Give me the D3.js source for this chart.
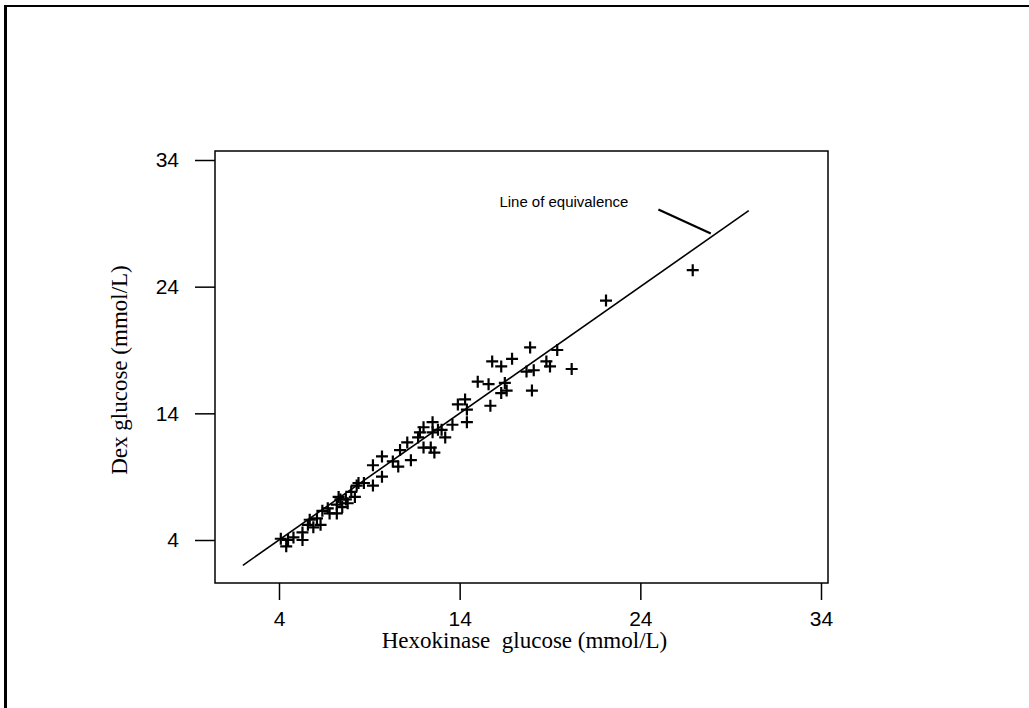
<!DOCTYPE html>
<html>
<head>
<meta charset="utf-8">
<script src="https://cdn.jsdelivr.net/npm/d3@7"></script>
<style>
  body { margin: 0; background: #fff; }
  svg { display: block; }
</style>
</head>
<body>
<script>
// Hexokinase glucose (x) vs Dex glucose (y), mmol/L
const hexokinase = [
  4.1, 4.4, 4.5, 4.8, 5.3, 5.3, 5.6, 5.7, 5.9, 6.1, 6.3, 6.4, 6.7, 6.8, 7.2,
  7.2, 7.3, 7.4, 7.5, 7.7, 7.8, 8.0, 8.2, 8.3, 8.4, 8.7, 9.2, 9.2, 9.7, 9.7,
  10.3, 10.6, 10.7, 11.1, 11.3, 11.7, 11.8, 12.0, 12.0, 12.4, 12.5, 12.5, 12.6,
  12.8, 13.0, 13.2, 13.6, 13.9, 14.3, 14.4, 14.4, 15.0, 15.6, 15.7, 15.8, 16.3,
  16.3, 16.5, 16.6, 16.9, 17.9, 17.7, 18.1, 18.0, 18.8, 19.0, 19.4, 20.2, 22.1,
  26.9
];
const dex = [
  4.1, 3.5, 4.0, 4.2, 4.6, 4.0, 5.2, 5.6, 5.0, 5.7, 5.2, 6.3, 6.5, 6.1, 6.1,
  6.8, 7.4, 7.2, 6.6, 7.2, 6.9, 7.8, 7.4, 8.3, 8.5, 8.5, 8.3, 9.9, 10.6, 9.0,
  10.2, 9.8, 11.1, 11.7, 10.3, 12.1, 12.5, 12.9, 11.3, 11.3, 13.3, 12.5, 10.9,
  12.7, 12.7, 12.1, 13.1, 14.7, 15.1, 14.3, 13.3, 16.5, 16.3, 14.6, 18.1, 17.7,
  15.6, 16.4, 15.8, 18.3, 19.2, 17.3, 17.4, 15.8, 18.1, 17.7, 19.0, 17.5, 22.9,
  25.3
];
const tickValues = [4, 14, 24, 34];
const equivalence = [2, 30];
const noteText = "Line of equivalence";
const notePos = [16.2, 30.3];
const leader = [[25.0, 30.1], [27.9, 28.2]];

const W = 1029, H = 708;
const box = { left: 215, right: 828, top: 151, bottom: 583 };
const sans = "Arial, 'Liberation Sans', sans-serif";
const serif = "'Times New Roman', 'Liberation Serif', serif";

const svg = d3.select("body").append("svg")
  .attr("width", W).attr("height", H);

// outer frame
svg.append("line")
  .attr("x1", 4).attr("x2", W).attr("y1", 6).attr("y2", 6)
  .attr("stroke", "#000").attr("stroke-width", 2);
svg.append("line")
  .attr("x1", 5.5).attr("x2", 5.5).attr("y1", 5).attr("y2", H)
  .attr("stroke", "#000").attr("stroke-width", 3);

const x = d3.scaleLinear().domain([4, 34]).range([279, 821]);
const y = d3.scaleLinear().domain([4, 34]).range([540, 160]);

svg.append("rect")
  .attr("x", box.left).attr("y", box.top)
  .attr("width", box.right - box.left).attr("height", box.bottom - box.top)
  .attr("fill", "none").attr("stroke", "#000").attr("stroke-width", 1.5);

const xAxis = svg.append("g")
  .attr("transform", `translate(0,${box.bottom})`)
  .call(d3.axisBottom(x).tickValues(tickValues).tickSize(17).tickPadding(11));
const yAxis = svg.append("g")
  .attr("transform", `translate(${box.left},0)`)
  .call(d3.axisLeft(y).tickValues(tickValues).tickSize(20).tickPadding(16));

[xAxis, yAxis].forEach((g) => {
  g.select(".domain").remove();
  g.selectAll(".tick line").attr("stroke", "#000").attr("stroke-width", 1.5);
  g.selectAll(".tick text")
    .attr("fill", "#000")
    .attr("font-family", sans)
    .attr("font-size", 21);
});

// line of equivalence
svg.append("line")
  .attr("x1", x(equivalence[0])).attr("y1", y(equivalence[0]))
  .attr("x2", x(equivalence[1])).attr("y2", y(equivalence[1]))
  .attr("stroke", "#000").attr("stroke-width", 1.6);

// data points as plus signs
const arm = 6;
svg.append("g")
  .selectAll("path")
  .data(hexokinase.map((h, i) => [h, dex[i]]))
  .join("path")
  .attr("d", (d) => {
    const cx = x(d[0]), cy = y(d[1]);
    return `M${cx - arm},${cy}H${cx + arm}M${cx},${cy - arm}V${cy + arm}`;
  })
  .attr("stroke", "#000").attr("stroke-width", 2.2).attr("fill", "none");

// annotation
svg.append("text")
  .attr("x", x(notePos[0])).attr("y", y(notePos[1]))
  .style("font-family", sans)
  .style("font-size", "14px")
  .attr("textLength", 129)
  .attr("lengthAdjust", "spacingAndGlyphs")
  .text(noteText);
svg.append("line")
  .attr("x1", x(leader[0][0])).attr("y1", y(leader[0][1]))
  .attr("x2", x(leader[1][0])).attr("y2", y(leader[1][1]))
  .attr("stroke", "#000").attr("stroke-width", 2.2);

// axis titles
svg.append("text")
  .attr("x", (box.left + box.right) / 2 + 3).attr("y", 648)
  .attr("text-anchor", "middle")
  .style("font-family", serif)
  .style("font-size", "23px")
  .style("white-space", "pre")
  .text("Hexokinase  glucose (mmol/L)");
svg.append("text")
  .attr("transform", `translate(127,${(box.top + box.bottom) / 2 + 3}) rotate(-90)`)
  .attr("text-anchor", "middle")
  .style("font-family", serif)
  .style("font-size", "23px")
  .text("Dex glucose (mmol/L)");
</script>
</body>
</html>
